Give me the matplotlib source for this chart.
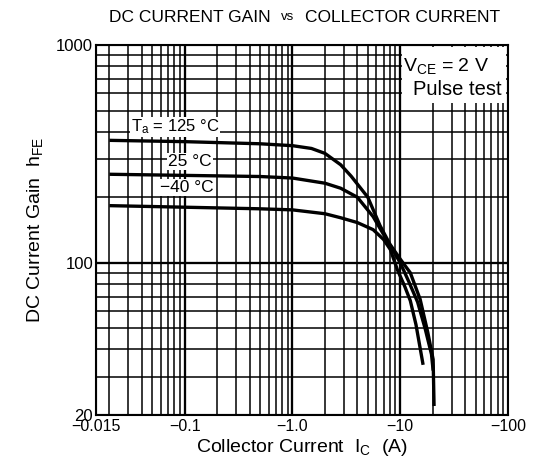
# hFE vs Ic datasheet curve (reproduced from scan)
import numpy as np
import matplotlib
matplotlib.use('Agg')
import matplotlib.pyplot as plt
from matplotlib.ticker import FixedLocator, NullFormatter, LogLocator
from matplotlib.patches import Rectangle

plt.rcParams['font.family'] = ['Liberation Sans', 'DejaVu Sans']
plt.rcParams['mathtext.default'] = 'regular'

# collector current magnitude (A) and dc current gain
IC_125 = [0.02, 0.1, 0.5, 1.0, 1.5, 2.0, 2.8, 3.5, 5.0, 6.5, 8.0, 10.0, 12.4, 15.3, 18.0, 20.2, 20.6]
HFE_125 = [365, 360, 352, 345, 335, 318, 282, 250, 200, 148, 122, 104, 90, 68, 48, 36, 22]

IC_25 = [0.02, 0.1, 0.5, 1.0, 2.0, 2.8, 4.0, 5.6, 7.0, 8.5, 10.0, 12.0, 14.5, 17.0, 19.5, 20.2]
HFE_25 = [255, 252, 249, 245, 232, 220, 200, 163, 135, 115, 100, 82, 66, 50, 38, 32]

IC_M40 = [0.02, 0.1, 0.5, 1.0, 2.0, 2.8, 4.0, 5.6, 7.0, 8.1, 9.4, 11.0, 12.4, 14.0, 16.3]
HFE_M40 = [183, 180, 177, 175, 168, 161, 153, 142, 128, 115, 93, 78, 67, 52, 34]

X_TICKS = [0.015, 0.1, 1.0, 10, 100]
X_TICKLABELS = ['\u22120.015', '\u22120.1', '\u22121.0', '\u221210', '\u2212100']
Y_TICKS = [20, 100, 1000]
Y_TICKLABELS = ['20', '100', '1000']

fig = plt.figure(figsize=(5.35, 4.68), dpi=100, facecolor='white')
ax = fig.add_axes([0.1794, 0.1132, 0.7701, 0.7906])

for ic, hfe in [(IC_125, HFE_125), (IC_25, HFE_25), (IC_M40, HFE_M40)]:
    ax.plot(ic, hfe, color='black', lw=2.4, zorder=4, solid_capstyle='butt')

ax.set_xscale('log')
ax.set_yscale('log')
ax.set_xlim(0.015, 100)
ax.set_ylim(20, 1000)

ax.xaxis.set_major_locator(FixedLocator(X_TICKS))
ax.set_xticklabels(X_TICKLABELS)
ax.xaxis.set_minor_locator(LogLocator(base=10, subs=np.arange(2, 10)))
ax.xaxis.set_minor_formatter(NullFormatter())
ax.yaxis.set_major_locator(FixedLocator(Y_TICKS))
ax.set_yticklabels(Y_TICKLABELS)
ax.yaxis.set_minor_locator(LogLocator(base=10, subs=np.arange(2, 10)))
ax.yaxis.set_minor_formatter(NullFormatter())

ax.grid(which='major', color='black', lw=1.5, zorder=1)
ax.grid(which='minor', color='black', lw=1.1, zorder=1)
# decade lines inside the plot
for xv in [0.1, 1.0, 10]:
    ax.axvline(xv, color='black', lw=1.6, zorder=1)
ax.axhline(100, color='black', lw=1.6, zorder=1)

ax.tick_params(which='both', length=0, colors='black', pad=3)
ax.tick_params(axis='x', labelsize=11.5)
ax.tick_params(axis='y', labelsize=12, pad=2)
for s in ax.spines.values():
    s.set_linewidth(1.5)
    s.set_color('black')

# white box with test conditions
ax.add_patch(Rectangle((0.743, 0.843), 0.252, 0.152, transform=ax.transAxes,
                       facecolor='white', edgecolor='none', zorder=5))
ax.text(0.955, 0.942, 'V$_{CE}$ = 2 V', transform=ax.transAxes, ha='right', va='center',
        fontsize=14, zorder=6)
ax.text(0.985, 0.88, 'Pulse test', transform=ax.transAxes, ha='right', va='center',
        fontsize=14.5, zorder=6)

lbl_box = dict(facecolor='white', edgecolor='none', pad=0.6)
ax.text(0.081, 421, 'T$_a$ = 125 \u00b0C', ha='center', va='center', fontsize=12,
        bbox=lbl_box, zorder=5)
ax.text(0.112, 292, '25 \u00b0C', ha='center', va='center', fontsize=12.5,
        bbox=lbl_box, zorder=5)
ax.text(0.104, 221, '\u221240 \u00b0C', ha='center', va='center', fontsize=12.5,
        bbox=lbl_box, zorder=5)

ax.set_xlabel('Collector Current  I$_C$  (A)', fontsize=14, labelpad=2)
ax.set_ylabel('DC Current Gain  h$_{FE}$', fontsize=14, labelpad=8)

# title with a small "vs" in the middle
fig.text(0.505, 0.963, 'DC CURRENT GAIN', ha='right', va='center', fontsize=12.5)
fig.text(0.538, 0.963, 'vs', ha='center', va='center', fontsize=9.5)
fig.text(0.571, 0.963, 'COLLECTOR CURRENT', ha='left', va='center', fontsize=12.5)

fig.savefig('out.png', dpi=100, facecolor='white')
